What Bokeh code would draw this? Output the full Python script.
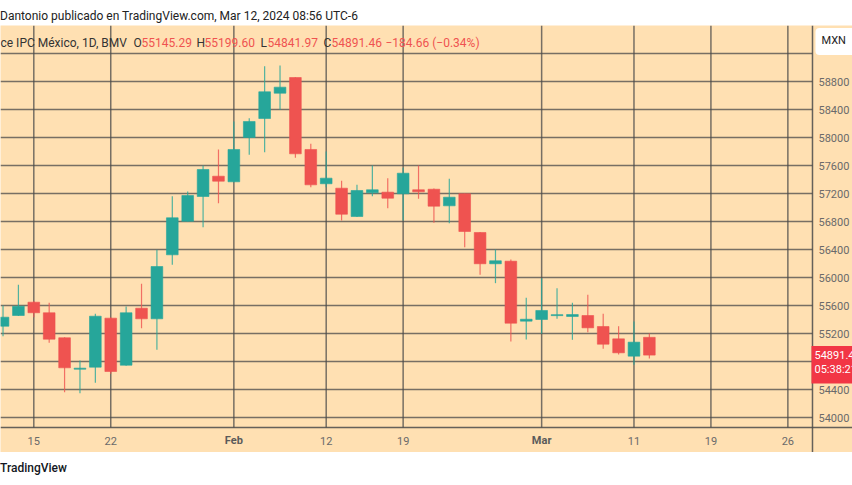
from bokeh.plotting import figure
from bokeh.models import ColumnDataSource, Range1d, Label, Div
from bokeh.core.properties import value
from bokeh.layouts import column
from bokeh.embed import file_html
from bokeh.resources import INLINE

# Daily bars of the IPC index (BMV), one entry per trading session
dates = ["Jan 11", "Jan 12", "Jan 15", "Jan 16", "Jan 17", "Jan 18", "Jan 19",
         "Jan 22", "Jan 23", "Jan 24", "Jan 25", "Jan 26", "Jan 29", "Jan 30",
         "Jan 31", "Feb 1", "Feb 2", "Feb 6", "Feb 7", "Feb 8", "Feb 9",
         "Feb 12", "Feb 13", "Feb 14", "Feb 15", "Feb 16", "Feb 19", "Feb 20",
         "Feb 21", "Feb 22", "Feb 23", "Feb 26", "Feb 27", "Feb 28", "Feb 29",
         "Mar 1", "Mar 4", "Mar 5", "Mar 6", "Mar 7", "Mar 8", "Mar 11", "Mar 12"]
opens = [55304, 55457, 55647, 55496, 55139, 54690, 54719, 55419, 54747, 55561,
         55410, 56324, 56804, 57157, 57447, 57367, 58000, 58271, 58633, 58857,
         57829, 57339, 57276, 56871, 57210, 57219, 57196, 57253, 57261, 57024,
         57196, 56643, 56196, 56233, 55376, 55400, 55455, 55443, 55457, 55300,
         55124, 54876, 55145.29]
highs = [55600, 55896, 55660, 55640, 55145, 54814, 55481, 55430, 55586, 55910,
         56396, 57161, 57229, 57600, 57829, 58229, 58276, 59019, 59029, 58860,
         57910, 57800, 57381, 57324, 57600, 57419, 57567, 57600, 57270, 57410,
         57200, 56650, 56400, 56257, 55710, 55990, 55847, 55639, 55753, 55481,
         55304, 55371, 55199.60]
lows = [55161, 55450, 55433, 55067, 54361, 54347, 54496, 54624, 54740, 55276,
        54967, 56181, 56795, 56719, 57061, 57360, 57753, 57790, 58396, 57710,
        57290, 57290, 56814, 56865, 57161, 56990, 56814, 57124, 56781, 56776,
        56433, 56039, 55919, 55086, 55114, 55196, 55410, 55110, 55219, 54981,
        54900, 54753, 54841.97]
closes = [55433, 55590, 55496, 55119, 54710, 54705, 55447, 54657, 55496, 55410,
          56157, 56853, 57171, 57543, 57376, 57829, 58229, 58653, 58719, 57767,
          57324, 57419, 56904, 57243, 57253, 57133, 57490, 57224, 57019, 57147,
          56657, 56196, 56239, 55347, 55404, 55529, 55469, 55471, 55281, 55047,
          54924, 55076.12, 54891.46]

# Time scale: bar positions of the labelled sessions (future sessions included)
time_tick_pos = [2, 7, 15, 21, 26, 35, 41, 46, 51]
time_tick_text = ["15", "22", "Feb", "12", "19", "Mar", "11", "19", "26"]
month_starts = ["Feb", "Mar"]

# Price scale
price_ticks = [54000, 54400, 55200, 55600, 56000, 56400, 56800, 57200, 57600,
               58000, 58400, 58800]
grid_levels = [54000, 54400, 54800, 55200, 55600, 56000, 56400, 56800, 57200,
               57600, 58000, 58400, 58800, 59200]

last_price = closes[-1]
change = closes[-1] - closes[-2]
change_pct = change / closes[-2] * 100
countdown = "05:38:21"

BG = "#FFE0B2"
UP = "#26A69A"
DOWN = "#EF5350"
TAG = "#F23645"
GRID = "#4a4a4a"
LABEL = "#6a6a6a"
FONT = "Roboto"

# visible window and the edges of the candle pane (price scale on the right,
# time scale underneath, both inside the same canvas)
X_START, X_END = -0.164, 55.2
Y_START, Y_END = 53500, 59600
PANE_RIGHT = 52.6
PANE_BOTTOM = 53857.14

idx = list(range(len(dates)))
colors = [UP if c >= o else DOWN for o, c in zip(opens, closes)]
src = ColumnDataSource(dict(
    x=idx, open=opens, high=highs, low=lows, close=closes,
    top=[max(o, c) for o, c in zip(opens, closes)],
    bottom=[min(o, c) for o, c in zip(opens, closes)],
    color=colors,
))

p = figure(width=852, height=427,
           x_range=Range1d(X_START, X_END), y_range=Range1d(Y_START, Y_END),
           x_axis_location=None, y_axis_location=None,
           output_backend="svg", toolbar_location=None, min_border=0,
           background_fill_color=BG, border_fill_color=BG,
           outline_line_color=None)
p.grid.visible = False

# grid of the candle pane
p.segment(x0=X_START, x1=PANE_RIGHT, y0=grid_levels, y1=grid_levels,
          line_color=GRID, line_alpha=0.75, line_width=1.5)
p.segment(x0=time_tick_pos, x1=time_tick_pos, y0=PANE_BOTTOM, y1=Y_END,
          line_color=GRID, line_alpha=0.75, line_width=1.5)

# pane borders
p.segment(x0=[PANE_RIGHT], x1=[PANE_RIGHT], y0=[Y_START], y1=[Y_END],
          line_color=GRID, line_alpha=0.85, line_width=1.5)
p.segment(x0=[X_START], x1=[X_END], y0=[PANE_BOTTOM], y1=[PANE_BOTTOM],
          line_color=GRID, line_alpha=0.85, line_width=1.5)

# candles
p.segment(x0="x", x1="x", y0="low", y1="high", source=src,
          line_color="color", line_width=1.2, line_alpha=0.8)
p.vbar(x="x", width=0.76, top="top", bottom="bottom", source=src,
       fill_color="color", line_color="color", line_width=0.6)

# price scale labels
p.text(x=[PANE_RIGHT] * len(price_ticks), y=price_ticks,
       text=[str(t) for t in price_ticks], x_offset=6,
       text_font=value(FONT), text_font_size="11px", text_color=LABEL,
       text_align="left", text_baseline="middle")

# time scale labels, month starts in bold
day_pos = [x for x, t in zip(time_tick_pos, time_tick_text) if t not in month_starts]
day_txt = [t for t in time_tick_text if t not in month_starts]
mon_pos = [x for x, t in zip(time_tick_pos, time_tick_text) if t in month_starts]
mon_txt = [t for t in time_tick_text if t in month_starts]
p.text(x=day_pos, y=[PANE_BOTTOM] * len(day_pos), text=day_txt, y_offset=13,
       text_font=value(FONT), text_font_size="11px", text_color=LABEL,
       text_align="center", text_baseline="middle")
p.text(x=mon_pos, y=[PANE_BOTTOM] * len(mon_pos), text=mon_txt, y_offset=13,
       text_font=value(FONT), text_font_size="11px", text_font_style="bold",
       text_color="#5a5a5a", text_align="center", text_baseline="middle")

# legend row with symbol and OHLC values
hdr_y = 410
legend_parts = [
    (0, "ce IPC México, 1D, BMV", "#333333"),
    (133, "O", "#333333"), (141, f"{opens[-1]:.2f}", DOWN),
    (196, "H", "#333333"), (204, f"{highs[-1]:.2f}", DOWN),
    (260, "L", "#333333"), (267, f"{lows[-1]:.2f}", DOWN),
    (323, "C", "#333333"), (331, f"{closes[-1]:.2f}", DOWN),
    (385, f"\u2212{abs(change):.2f} (\u2212{abs(change_pct):.2f}%)", DOWN),
]
for x, t, c in legend_parts:
    p.add_layout(Label(x=x, y=hdr_y, x_units="screen", y_units="screen",
                       text=t, text_font=FONT, text_font_size="12px",
                       text_color=c, text_align="left", text_baseline="middle"))

# currency button
p.add_layout(Label(x=PANE_RIGHT, x_offset=3, y=411, x_units="data",
                   y_units="screen", text="MXN", text_font=FONT,
                   text_font_size="11px", text_color="#222222",
                   text_align="left", text_baseline="middle",
                   padding=(6, 30, 6, 8), border_radius=4,
                   background_fill_color="white", border_line_color=None))

# last price tag with the bar countdown underneath
p.add_layout(Label(x=PANE_RIGHT, x_offset=-1, y=last_price, y_offset=9,
                   x_units="data", y_units="data",
                   text=f"{last_price:.2f}\n{countdown}", text_font=FONT,
                   text_font_size="11px", text_line_height=1.1,
                   text_color="white", text_align="left", text_baseline="top",
                   padding=(3, 20, 3, 7), background_fill_color=TAG))

title = Div(text=('<div style="font-family:Roboto;font-size:12px;color:#222;'
                  'line-height:14px;padding-top:9px;white-space:nowrap;">'
                  'Dantonio publicado en TradingView.com, Mar 12, 2024 08:56 UTC-6'
                  '</div>'),
            width=852, height=25, margin=(0, 0, 0, 0))
footer = Div(text=('<div style="font-family:Roboto;font-size:12px;color:#131722;'
                   'font-weight:500;line-height:14px;padding-top:9px;'
                   'white-space:nowrap;">TradingView</div>'),
             width=852, height=33, margin=(0, 0, 0, 0))

layout = column(title, p, footer, spacing=0)
open("out.html", "w").write(file_html(layout, INLINE))
